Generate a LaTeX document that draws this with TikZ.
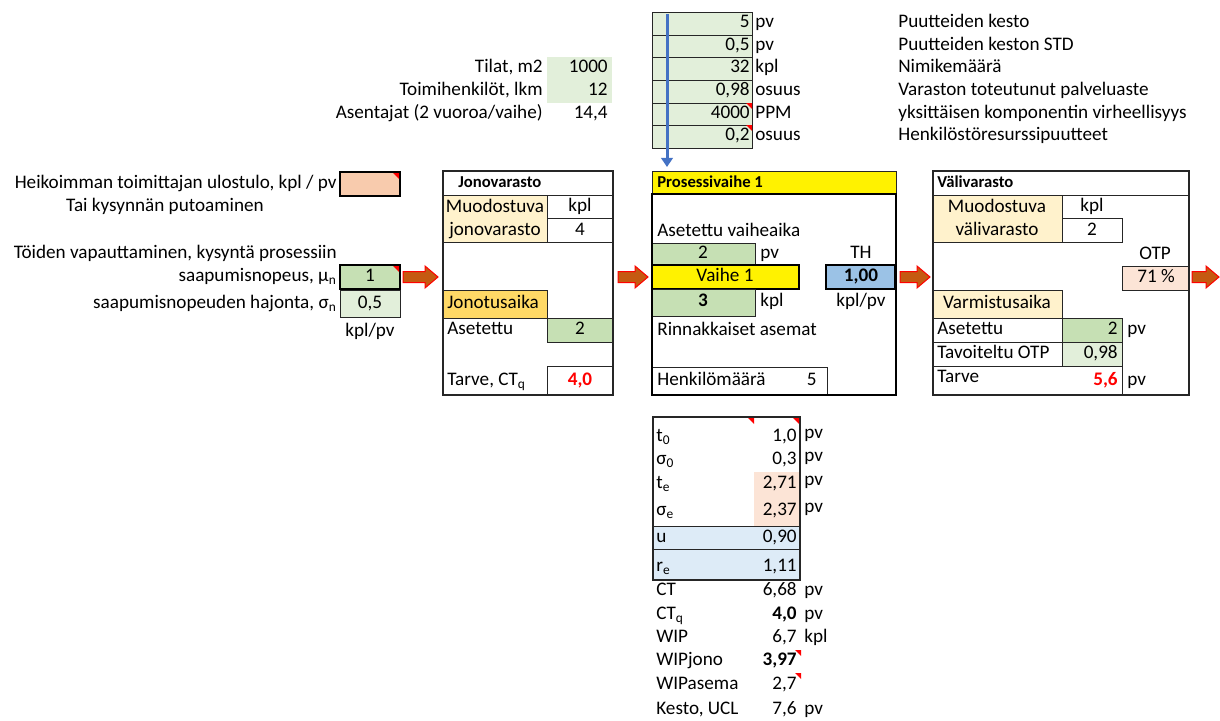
\documentclass[tikz,border=0pt]{standalone}
\usepackage{fontspec}
\setmainfont{Carlito}
\usetikzlibrary{arrows.meta}
\definecolor{inputgreen}{HTML}{C6E0B4}
\definecolor{paramgreen}{HTML}{E2EFDA}
\definecolor{creamfill}{HTML}{FFF2CC}
\definecolor{goldfill}{HTML}{FFD966}
\definecolor{thblue}{HTML}{9BC2E6}
\definecolor{paleblue}{HTML}{DDEBF7}
\definecolor{salmon}{HTML}{F8CBAD}
\definecolor{palesalmon}{HTML}{FCE4D6}
\definecolor{flowfill}{HTML}{C55A11}
\definecolor{linkblue}{HTML}{4472C4}

\begin{document}
\begin{tikzpicture}[x=0.6pt, y=-0.6pt, font=\fontsize{11.5}{13.5}\selectfont,
    every node/.style={inner sep=0pt, text height=0.7em, text depth=0.22em},
    lbl/.style={anchor=west},
    num/.style={anchor=east},
    head/.style={anchor=west, font=\fontsize{10}{12}\selectfont\bfseries},
    grid/.style={draw=black!85, line width=0.6pt},
    heavy/.style={draw=black, line width=1.6pt},
    comment/.style={fill=red},
    flow/.style={fill=flowfill, draw=red, line width=0.6pt}]
    \useasboundingbox (0,0) rectangle (1220,720);

    % parameter table on top
    \fill[paramgreen] (652,12) rectangle (752,148);
    \foreach \y in {35,57,80,103,125} \draw[grid] (652,\y) -- (752,\y);
    \draw[grid] (652,12) rectangle (752,148);
    \foreach \v/\u/\d [count=\i] in {{5}/pv/Puutteiden kesto,
        {0,5}/pv/Puutteiden keston STD,
        {32}/kpl/Nimikemäärä,
        {0,98}/osuus/Varaston toteutunut palveluaste,
        {4000}/PPM/yksittäisen komponentin virheellisyys,
        {0,2}/osuus/Henkilöstöresurssipuutteet} {
        \pgfmathsetmacro{\yc}{12+22.67*(\i-0.5)}
        \node[num] (parval\i) at (750,\yc) {\v};
        \node[lbl] (parunit\i) at (755,\yc) {\u};
        \node[lbl] (pardesc\i) at (898,\yc) {\d};
    }
    \fill[comment] (752,103) -- (746,103) -- (752,109) -- cycle;
    \fill[comment] (752,125) -- (746,125) -- (752,131) -- cycle;
    % link down to the process stage
    \coordinate (linktop) at (667,14);
    \coordinate (linkbot) at (667,167);
    \draw[linkblue, line width=1.8pt, -{Triangle[width=7pt,length=5.5pt]}] (linktop) -- (linkbot);

    % resources
    \fill[paramgreen] (547,57) rectangle (612,103);
    \node[num] (tilat) at (543,68.7) {Tilat, m2};
    \node[num] (tilatv) at (608,68.7) {1000};
    \node[num] (toimi) at (543,91.3) {Toimihenkilöt, lkm};
    \node[num] (toimiv) at (608,91.3) {12};
    \node[num] (asent) at (543,114) {Asentajat (2 vuoroa/vaihe)};
    \node[num] (asentv) at (608,114) {14,4};

    % arrivals
    \node[num] (heik) at (337,184) {Heikoimman toimittajan ulostulo, kpl / pv};
    \filldraw[fill=salmon, heavy] (340,172) rectangle (400,196);
    \fill[comment] (399,173) -- (393,173) -- (399,179) -- cycle;
    \node (putoam) at (165,207) {Tai kysynnän putoaminen};
    \node[num] (vapaut) at (337,254) {Töiden vapauttaminen, kysyntä prosessiin};
    \node[num] (mulbl) at (337,277) {saapumisnopeus, μ\textsubscript{n}};
    \filldraw[fill=inputgreen, heavy] (340,265) rectangle (400,289);
    \fill[comment] (399,266) -- (393,266) -- (399,272) -- cycle;
    \node (muval) at (370,277) {1};
    \node[num] (sigmalbl) at (337,304) {saapumisnopeuden hajonta, σ\textsubscript{n}};
    \filldraw[fill=paramgreen, grid] (340,290) rectangle (400,317);
    \node (sigmaval) at (370,304) {0,5};
    \node (arrunit) at (370,332) {kpl/pv};

    % flow arrows
    \foreach \x/\len [count=\i] in {403/35, 618/30, 900/30, 1192/27} {
        \coordinate (flow\i) at (\x,277);
        \filldraw[flow] (flow\i) ++(0,-5.5) -- ++(\len-13,0) -- ++(0,-5.5)
            -- ++(13,11) -- ++(-13,11) -- ++(0,-5.5) -- ++(-\len+13,0) -- cycle;
    }

    % queue buffer
    \filldraw[fill=creamfill, grid] (443,195) rectangle (547,242);
    \draw[grid] (547,218) rectangle (613,242);
    \node[head] (jonohead) at (458,183) {Jonovarasto};
    \node (jonomuod) at (495,208) {Muodostuva};
    \node (jonovar) at (495,231) {jonovarasto};
    \node (jonokpl) at (580,207) {kpl};
    \node (jonoval) at (580,231) {4};
    \filldraw[fill=goldfill, grid] (443,290) rectangle (547,318);
    \node[lbl] (jonotus) at (447,304) {Jonotusaika};
    \draw[grid] (443,318) -- (613,318);
    \filldraw[fill=inputgreen, grid] (547,318) rectangle (613,342);
    \node[lbl] (jonoaset) at (447,330) {Asetettu};
    \node (jonoasetv) at (580,330) {2};
    \draw[grid] (547,366) rectangle (613,395);
    \node[lbl] (jonotarve) at (447,381) {Tarve, CT\textsubscript{q}};
    \node[text=red] (jonotarvev) at (580,381) {\textbf{4,0}};
    \draw[grid] (443,195) -- (613,195);
    \draw[grid, line width=0.9pt] (443,171) rectangle (613,395);

    % process stage
    \filldraw[fill=yellow, grid] (652,171) rectangle (896,194);
    \node[head] (prohead) at (657,183) {Prosessivaihe 1};
    \node[lbl] (proaset) at (657,232) {Asetettu vaiheaika};
    \filldraw[fill=inputgreen, grid] (652,243) rectangle (755,265);
    \node (proaika) at (703,254) {2};
    \node[lbl] (proaikau) at (760,254) {pv};
    \filldraw[fill=yellow, heavy] (652,265) rectangle (799,289);
    \node (vaihe) at (725,277) {Vaihe 1};
    \node (thlbl) at (861,254) {TH};
    \filldraw[fill=thblue, heavy] (826,265) rectangle (895,289);
    \node (thval) at (861,277) {\textbf{1,00}};
    \filldraw[fill=inputgreen, grid] (652,289) rectangle (755,316);
    \node (proasem) at (703,302) {\textbf{3}};
    \node[lbl] (proasemu) at (760,302) {kpl};
    \node (thunit) at (861,302) {kpl/pv};
    \node[lbl] (rinn) at (657,331) {Rinnakkaiset asemat};
    \draw[grid] (652,367) rectangle (827,395);
    \node[lbl] (henk) at (657,381) {Henkilömäärä};
    \node[num] (henkv) at (817,381) {5};
    \draw[heavy] (652,194) rectangle (896,395);

    % intermediate buffer
    \filldraw[fill=creamfill, grid] (933,195) rectangle (1062,242);
    \node[head] (valihead) at (937,183) {Välivarasto};
    \node (valimuod) at (997,208) {Muodostuva};
    \node (valivar) at (997,231) {välivarasto};
    \node (valikpl) at (1092,207) {kpl};
    \draw[grid] (1062,218) rectangle (1122,242);
    \node (valival) at (1092,231) {2};
    \node (otplbl) at (1155,255) {OTP};
    \filldraw[fill=palesalmon, grid] (1122,266) rectangle (1189,290);
    \node (otpval) at (1156,278) {71 \%};
    \filldraw[fill=creamfill, grid] (933,290) rectangle (1062,318);
    \node (varmist) at (997,304) {Varmistusaika};
    \draw[grid] (933,318) rectangle (1062,342);
    \filldraw[fill=inputgreen, grid] (1062,318) rectangle (1122,342);
    \node[lbl] (valiaset) at (937,330) {Asetettu};
    \node[num] (valiasetv) at (1118,330) {2};
    \node[lbl] (valiasetu) at (1127,330) {pv};
    \draw[grid] (933,342) rectangle (1062,366);
    \filldraw[fill=paramgreen, grid] (1062,342) rectangle (1122,366);
    \node[lbl] (tavoite) at (937,354) {Tavoiteltu OTP};
    \node[num] (tavoitev) at (1118,354) {0,98};
    \draw[grid] (933,366) -- (1122,366) -- (1122,395);
    \node[lbl] (valitarve) at (937,378) {Tarve};
    \node[num, text=red] (valitarvev) at (1118,381) {\textbf{5,6}};
    \node[lbl] (valitarveu) at (1127,381) {pv};
    \draw[grid] (933,195) -- (1189,195);
    \draw[grid, line width=0.9pt] (933,171) rectangle (1189,395);

    % station figures
    \fill[palesalmon] (754,472) rectangle (800,526);
    \filldraw[fill=paleblue, grid] (653,526) rectangle (800,549);
    \filldraw[fill=paleblue, grid] (653,549) rectangle (800,580);
    \draw[grid, line width=0.9pt] (653,417) rectangle (800,580);
    \fill[comment] (754,418) -- (748,418) -- (754,424) -- cycle;
    \fill[comment] (799,418) -- (793,418) -- (799,424) -- cycle;
    \foreach \lab/\v/\u/\yy [count=\i] in {{t\textsubscript{0}}/{1,0}/pv/437,
        {σ\textsubscript{0}}/{0,3}/pv/460,
        {t\textsubscript{e}}/{2,71}/pv/484,
        {σ\textsubscript{e}}/{2,37}/pv/511,
        {u}/{0,90}//538,
        {r\textsubscript{e}}/{1,11}//567} {
        \node[lbl] (stat\i) at (656,\yy) {\lab};
        \node[num] (statval\i) at (797,\yy) {\v};
        \node[lbl] (statunit\i) at (804,\yy-3) {\u};
    }
    \foreach \lab/\v/\u/\yy [count=\i] in {{CT}/{6,68}/pv/591,
        {CT\textsubscript{q}}/{\textbf{4,0}}/pv/615,
        {WIP}/{6,7}/kpl/638,
        {WIPjono}/{\textbf{3,97}}//661,
        {WIPasema}/{2,7}//685,
        {Kesto, UCL}/{7,6}/pv/710} {
        \node[lbl] (kpi\i) at (656,\yy) {\lab};
        \node[num] (kpival\i) at (797,\yy) {\v};
        \node[lbl] (kpiunit\i) at (804,\yy) {\u};
    }
    \fill[comment] (801,650) -- (795,650) -- (801,656) -- cycle;
    \fill[comment] (801,673) -- (795,673) -- (801,679) -- cycle;
\end{tikzpicture}
\end{document}
